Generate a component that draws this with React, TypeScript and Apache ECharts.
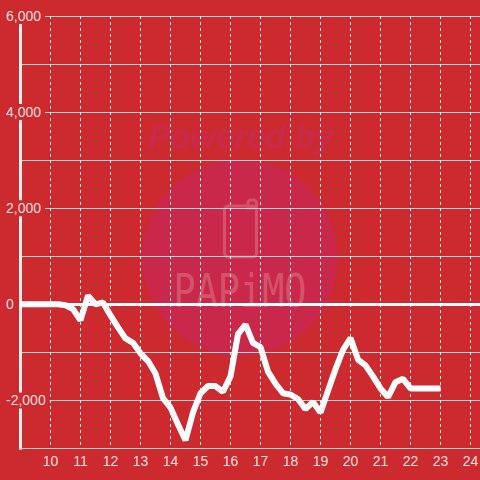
import React, { useEffect, useRef } from 'react';
import * as echarts from 'echarts';

// hour of day
const hours = [
  9, 10.25, 10.5, 10.75, 11, 11.25, 11.5, 11.75, 12, 12.25, 12.5, 12.75, 13, 13.25, 13.5, 13.75,
  14, 14.25, 14.5, 14.75, 15, 15.25, 15.5, 15.75, 16, 16.25, 16.5, 16.75, 17, 17.25, 17.5, 17.75,
  18, 18.25, 18.5, 18.75, 19, 19.25, 19.5, 19.75, 20, 20.25, 20.5, 20.75, 21, 21.25, 21.5, 21.75,
  22, 23,
];
// running balance
const balance = [
  0, 0, -20, -100, -330, 180, 0, 40, -230, -480, -710, -800, -1020, -1180, -1440, -1950,
  -2150, -2500, -2830, -2250, -1850, -1700, -1700, -1820, -1500, -620, -420, -800, -890, -1400, -1650, -1850,
  -1880, -1970, -2180, -2030, -2250, -1800, -1350, -950, -700, -1150, -1270, -1500, -1750, -1930, -1620, -1550,
  -1750, -1750,
];

const BG = '#cc2a2f';
const LABEL = 'rgba(255,255,255,0.85)';
const FONT = '"Liberation Sans", Arial, sans-serif';
const MARK = '#d4536b';

export default function App() {
  const ref = useRef<HTMLDivElement>(null);
  useEffect(() => {
    const chart = echarts.init(ref.current!, null, { renderer: 'svg' });
    const fmt = (v: number) => v.toLocaleString('en-US');
    chart.setOption({
      animation: false,
      backgroundColor: BG,
      grid: { left: 20.5, width: 480, top: 16, bottom: 31.5, containLabel: false, outerBoundsMode: 'none' },
      graphic: [
        {
          type: 'group',
          z: -10,
          silent: true,
          children: [
            { type: 'circle', shape: { cx: 240, cy: 258, r: 98 }, style: { fill: '#c9284a' } },
            {
              type: 'text',
              x: 241,
              y: 136,
              style: {
                text: 'Powered by',
                fill: '#c92a4a',
                font: 'italic bold 33px "Liberation Sans", Arial, sans-serif',
                align: 'center',
                verticalAlign: 'middle',
              },
            },
            {
              type: 'rect',
              shape: { x: 224.5, y: 206, width: 32, height: 51, r: 4 },
              style: { fill: 'none', stroke: MARK, lineWidth: 3 },
            },
            {
              type: 'rect',
              shape: { x: 248, y: 200, width: 8.5, height: 8, r: [3, 3, 0, 0] },
              style: { fill: 'none', stroke: MARK, lineWidth: 3 },
            },
            {
              type: 'text',
              x: 240,
              y: 291,
              scaleX: 0.8,
              style: {
                text: 'PAPiMO',
                fill: MARK,
                font: '46px "DejaVu Sans Mono", monospace',
                align: 'center',
                verticalAlign: 'middle',
              },
            },
          ],
        },
      ],
      xAxis: {
        type: 'value',
        min: 9,
        max: 25,
        interval: 1,
        axisLine: { show: true, onZero: false, lineStyle: { color: '#d0d0d0', width: 1 } },
        axisTick: { show: false },
        axisLabel: {
          color: LABEL,
          fontSize: 14,
          fontFamily: FONT,
          margin: 5,
          showMinLabel: false,
          showMaxLabel: false,
        },
        splitLine: { show: true, lineStyle: { color: '#f2f2f2', width: 1, type: [3, 3] } },
      },
      yAxis: [
        {
          type: 'value',
          min: -3000,
          max: 6000,
          interval: 1000,
          z: 0,
          axisLine: { show: true, onZero: false, lineStyle: { color: '#efefef', width: 3 } },
          axisTick: { show: false },
          axisLabel: { show: false },
          splitLine: { show: true, lineStyle: { color: '#d4d4d4', width: 1 } },
        },
        {
          type: 'value',
          position: 'left',
          min: -3000,
          max: 6000,
          interval: 1000,
          z: 5,
          axisLine: { show: false },
          axisTick: { show: false },
          splitLine: { show: false },
          axisLabel: {
            margin: 18.5,
            align: 'left',
            formatter: (v: number) => (v % 2000 === 0 ? `{b|${fmt(v)}}` : ''),
            rich: {
              b: {
                color: LABEL,
                fontSize: 14,
                fontFamily: FONT,
                backgroundColor: BG,
                padding: [1, 4, 1, 4],
                lineHeight: 16,
              },
            },
          },
        },
      ],
      series: [
        {
          type: 'line',
          yAxisIndex: 0,
          data: hours.map((h, i) => [h, balance[i]]),
          symbol: 'none',
          z: 3,
          lineStyle: { color: '#ffffff', width: 6 },
          markLine: {
            silent: true,
            symbol: 'none',
            label: { show: false },
            lineStyle: { color: '#ffffff', width: 3, type: 'solid' },
            data: [{ yAxis: 0 }],
          },
        },
      ],
    });
    return () => chart.dispose();
  }, []);
  return <div ref={ref} style={{ position: 'fixed', left: 0, top: 0, width: 480, height: 480 }} />;
}
